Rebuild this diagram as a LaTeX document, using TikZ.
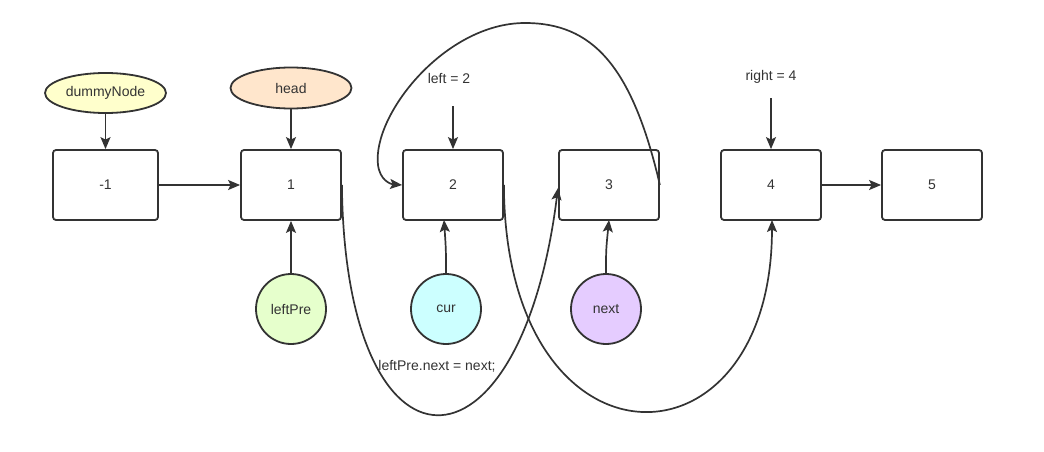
\documentclass[tikz,border=0pt]{standalone}
\usepackage{fontspec}
\setmainfont{Liberation Sans}
\usetikzlibrary{arrows.meta,shapes.geometric}
\definecolor{linegray}{HTML}{333333}
\definecolor{dummyfill}{HTML}{FFFFCC}
\definecolor{headfill}{HTML}{FFE6CC}
\definecolor{prefill}{HTML}{E6FFCC}
\definecolor{curfill}{HTML}{CCFFFF}
\definecolor{nextfill}{HTML}{E5CCFF}
\tikzset{
  every node/.style={font=\fontsize{14}{16}\selectfont, text=linegray},
  listbox/.style={rectangle, rounded corners=3pt, draw=linegray, line width=1.8pt, minimum width=100pt, minimum height=70pt, inner sep=0pt},
  ptroval/.style={ellipse, draw=linegray, line width=1.8pt, minimum width=121pt, minimum height=40pt, inner sep=0pt},
  ptrcircle/.style={circle, draw=linegray, line width=1.8pt, minimum size=70pt, inner sep=0pt},
  link/.style={-{Stealth[length=12pt,width=10pt,inset=2.5pt]}, draw=linegray, line width=1.7pt},
}
\begin{document}
\begin{tikzpicture}[x=1pt, y=-1pt]
        \useasboundingbox (0,0) rectangle (1044,452);
        % List nodes
        \node (dummy) [listbox, minimum width=105pt] at (105.5,185) {-1};
        \node (n1) [listbox] at (291,185) {1};
        \node (n2) [listbox] at (453,185) {2};
        \node (n3) [listbox] at (609,185) {3};
        \node (n4) [listbox] at (771,185) {4};
        \node (n5) [listbox] at (932,185) {5};

        % Pointers
        \node (dummyptr) [ptroval, fill=dummyfill] at (105.5,93) {dummyNode};
        \node (headptr) [ptroval, fill=headfill, minimum height=41pt] at (291,88) {head};
        \node (leftpre) [ptrcircle, fill=prefill] at (291,309) {leftPre};
        \node (cur) [ptrcircle, fill=curfill] at (446,309) {cur};
        \node (next) [ptrcircle, fill=nextfill] at (606,309) {next};
        \node (lefttxt) at (449,78) {left = 2};
        \node (righttxt) at (771,77) {right = 4};
        \coordinate (leftstart) at (453,106);
        \coordinate (rightstart) at (771,98);

        % Arrows
        \draw[link] (dummyptr) -- (dummy);
        \draw[link] (headptr) -- (n1);
        \draw[link] (dummy) -- (n1);
        \draw[link] (n4) -- (n5);
        \draw[link] (leftstart) -- (n2);
        \draw[link] (rightstart) -- (n4);
        \draw[link] (leftpre) -- (n1);
        \draw[link] (cur.north) .. controls (446,250) .. (444,220);
        \draw[link] (next.north) .. controls (606,250) .. (609,220);

        % Relinking
        \draw[link] (n1.east) .. controls (345,490) and (520,490) .. (558,188);
        \draw[link] (n2.east) .. controls (505,480) and (772,480) .. (772,220);
        \draw[link] (n3.east) .. controls (632,65) and (592,23) .. (525,23)
                .. controls (445,23) and (372,115) .. (378,165)
                .. controls (380,180) and (390,184) .. (n2.west);

        % Labels
        \node (relabel) at (437,366) {leftPre.next = next;};
    \end{tikzpicture}
\end{document}
